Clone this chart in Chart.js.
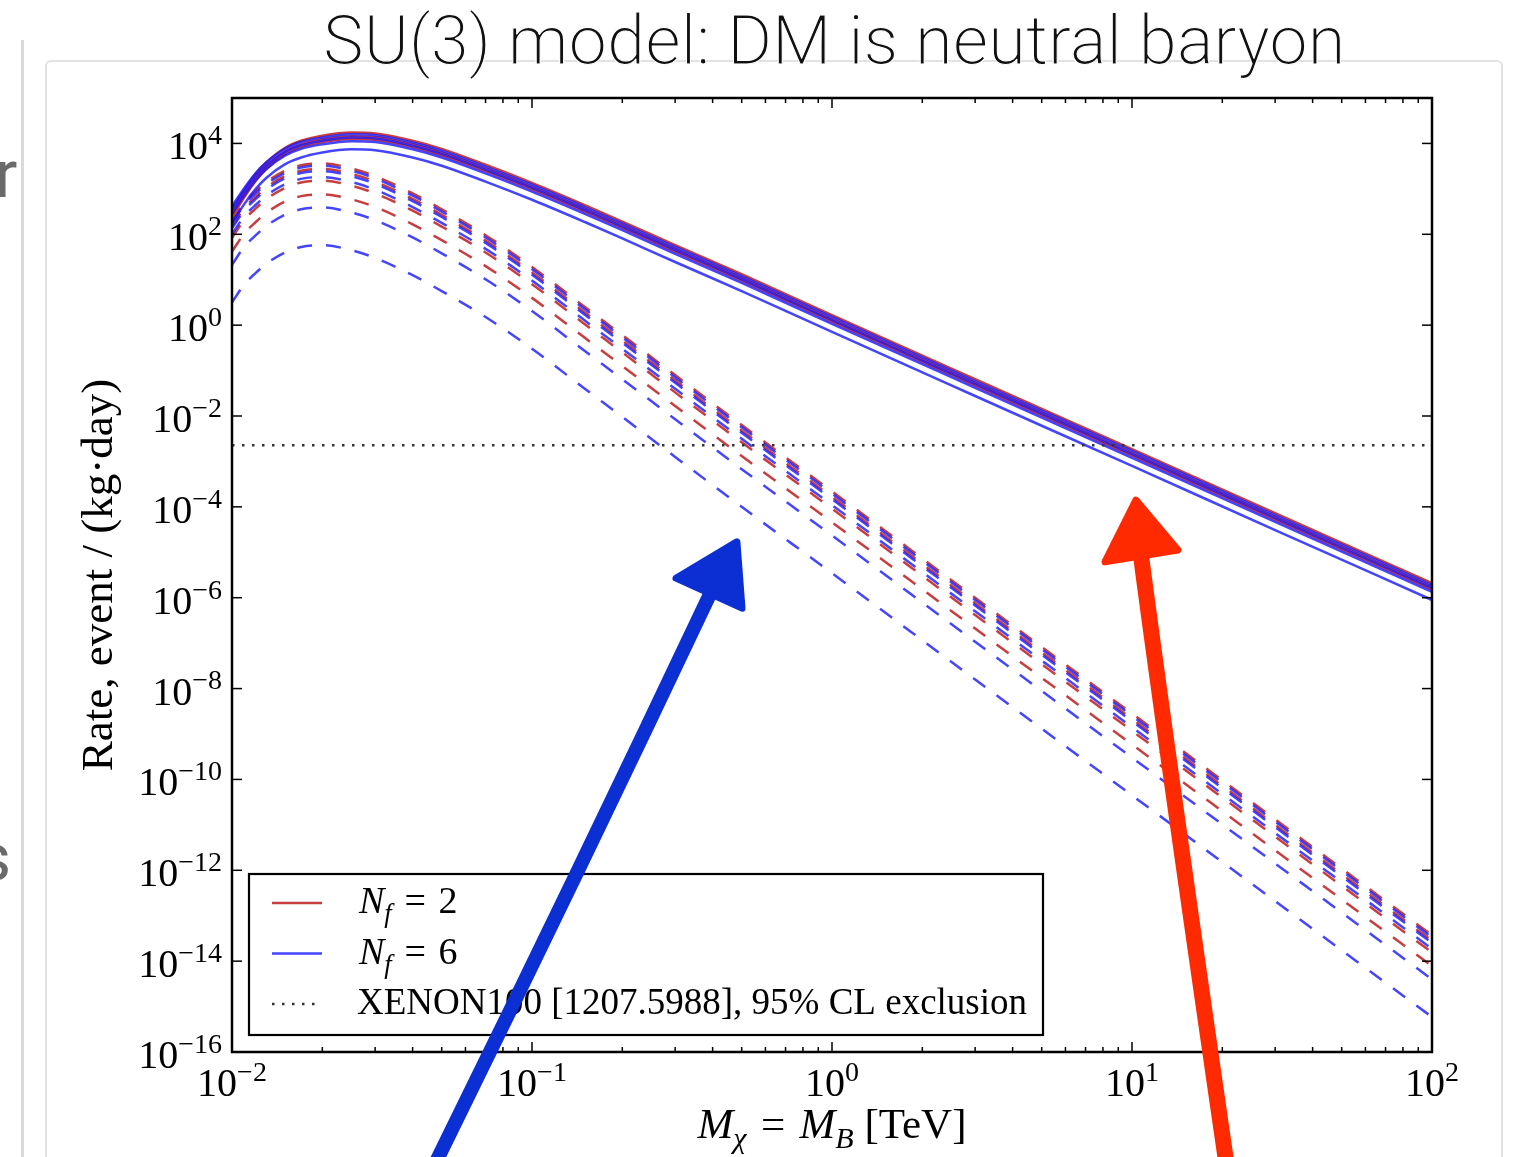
<!DOCTYPE html>
<html>
<head>
<meta charset="utf-8">
<title>SU(3) model: DM is neutral baryon</title>
<script src="https://cdn.jsdelivr.net/npm/chart.js@4.4.1/dist/chart.umd.min.js"></script>
<style>
  html, body { margin: 0; padding: 0; background: #fff; overflow: hidden; }
  body { width: 1523px; height: 1157px; position: relative; }
  #chart { position: absolute; left: 0; top: 0; }
</style>
</head>
<body>
<canvas id="chart" width="1523" height="1157"></canvas>
<script>
// Dark matter mass grid, TeV
const massTeV = [0.01, 0.011, 0.012, 0.013, 0.015, 0.017, 0.02, 0.025, 0.03, 0.04, 0.05,
                 0.07, 0.1, 0.15, 0.2, 0.3, 0.5, 1, 3, 10, 30, 100];

// log10 of the event rate per (kg day), one row per curve
const nf2Solid = [
    [2.55, 2.98, 3.33, 3.58, 3.90, 4.06, 4.17, 4.24, 4.22, 4.06, 3.88, 3.53, 3.13, 2.64, 2.28, 1.76, 1.12, 0.22, -1.19, -2.73, -4.14, -5.68],
    [2.45, 2.88, 3.24, 3.50, 3.82, 3.98, 4.09, 4.16, 4.14, 3.98, 3.80, 3.45, 3.05, 2.56, 2.20, 1.68, 1.04, 0.14, -1.27, -2.81, -4.22, -5.76],
    [2.38, 2.82, 3.18, 3.44, 3.76, 3.92, 4.03, 4.10, 4.08, 3.92, 3.74, 3.39, 2.99, 2.50, 2.14, 1.62, 0.98, 0.08, -1.33, -2.87, -4.28, -5.82]
];
const nf6Solid = [
    [2.62, 3.02, 3.35, 3.58, 3.88, 4.03, 4.13, 4.20, 4.18, 4.02, 3.84, 3.49, 3.09, 2.60, 2.24, 1.72, 1.08, 0.18, -1.23, -2.77, -4.18, -5.72],
    [2.55, 2.95, 3.28, 3.51, 3.81, 3.96, 4.06, 4.13, 4.11, 3.95, 3.77, 3.42, 3.02, 2.53, 2.17, 1.65, 1.01, 0.11, -1.30, -2.84, -4.25, -5.79],
    [2.45, 2.86, 3.19, 3.43, 3.73, 3.88, 3.98, 4.05, 4.03, 3.87, 3.69, 3.34, 2.94, 2.45, 2.09, 1.57, 0.93, 0.03, -1.38, -2.92, -4.33, -5.87],
    [2.25, 2.67, 3.00, 3.24, 3.54, 3.69, 3.80, 3.87, 3.85, 3.69, 3.51, 3.16, 2.76, 2.27, 1.91, 1.39, 0.75, -0.15, -1.56, -3.10, -4.51, -6.05]
];
const nf2Dashed = [
    [2.30, 2.70, 2.95, 3.15, 3.40, 3.52, 3.56, 3.45, 3.28, 2.90, 2.55, 1.98, 1.28, 0.40, -0.22, -1.10, -2.20, -3.66, -6.00, -8.55, -10.88, -13.43],
    [2.18, 2.58, 2.83, 3.03, 3.28, 3.40, 3.44, 3.33, 3.16, 2.78, 2.43, 1.86, 1.16, 0.28, -0.34, -1.22, -2.32, -3.78, -6.12, -8.67, -11.00, -13.55],
    [1.92, 2.32, 2.57, 2.77, 3.02, 3.14, 3.18, 3.07, 2.90, 2.52, 2.17, 1.60, 0.90, 0.02, -0.60, -1.48, -2.58, -4.04, -6.38, -8.93, -11.26, -13.81],
    [1.62, 2.02, 2.27, 2.47, 2.72, 2.84, 2.88, 2.77, 2.60, 2.22, 1.87, 1.30, 0.60, -0.28, -0.90, -1.78, -2.88, -4.34, -6.68, -9.23, -11.56, -14.11]
];
const nf6Dashed = [
    [2.25, 2.65, 2.90, 3.10, 3.35, 3.47, 3.51, 3.40, 3.23, 2.85, 2.50, 1.93, 1.23, 0.35, -0.27, -1.15, -2.25, -3.71, -6.05, -8.60, -10.93, -13.48],
    [2.13, 2.53, 2.78, 2.98, 3.23, 3.35, 3.39, 3.28, 3.11, 2.73, 2.38, 1.81, 1.11, 0.23, -0.39, -1.27, -2.37, -3.83, -6.17, -8.72, -11.05, -13.60],
    [2.00, 2.40, 2.65, 2.85, 3.10, 3.22, 3.26, 3.15, 2.98, 2.60, 2.25, 1.68, 0.98, 0.10, -0.52, -1.40, -2.50, -3.96, -6.30, -8.85, -11.18, -13.73],
    [1.33, 1.73, 1.98, 2.18, 2.43, 2.55, 2.59, 2.48, 2.31, 1.93, 1.58, 1.01, 0.31, -0.57, -1.19, -2.07, -3.17, -4.63, -6.97, -9.52, -11.85, -14.40],
    [0.50, 0.90, 1.15, 1.35, 1.60, 1.72, 1.76, 1.65, 1.48, 1.10, 0.75, 0.18, -0.52, -1.40, -2.02, -2.90, -4.00, -5.46, -7.80, -10.35, -12.68, -15.23]
];

// XENON100 exclusion level, events / (kg day)
const xenonLimit = 2.26e-3;

// axis decades that carry a tick label
const xTickExp = [-2, -1, 0, 1, 2];
const yTickExp = [4, 2, 0, -2, -4, -6, -8, -10, -12, -14, -16];

const RED = 'rgba(190, 28, 28, 0.85)';
const BLUE = 'rgba(22, 22, 255, 0.8)';
const SERIF = '"Liberation Serif", "DejaVu Serif", serif';
const SANS_LIGHT = '"Roboto Light", Roboto, "Noto Sans", sans-serif';
const DASH = [15, 14];
const DOTS = [2.5, 7.5];
const EQ = '\u2004=\u2004';

function toPoints(logRates) {
    return massTeV.map((m, i) => ({ x: m, y: Math.pow(10, logRates[i]) }));
}

function curve(logRates, color, dashed) {
    return {
        data: toPoints(logRates),
        borderColor: color,
        borderWidth: 2.5,
        borderDash: dashed ? DASH : [],
        cubicInterpolationMode: 'monotone',
        pointRadius: 0
    };
}

const datasets = [{
    data: [{ x: 0.01, y: xenonLimit }, { x: 100, y: xenonLimit }],
    borderColor: '#333',
    borderWidth: 2.5,
    borderDash: DOTS,
    pointRadius: 0
}];
nf6Solid.forEach(r => datasets.push(curve(r, BLUE, false)));
nf2Solid.forEach(r => datasets.push(curve(r, RED, false)));
nf6Dashed.forEach(r => datasets.push(curve(r, BLUE, true)));
nf2Dashed.forEach(r => datasets.push(curve(r, RED, true)));

// draw a sequence of text runs (italic / sub / superscript) on one baseline
function drawRuns(ctx, runs, x, y, size, align) {
    const parts = runs.map(r => {
        const s = (r.sub || r.sup) ? size * 0.7 : size;
        const font = (r.italic ? 'italic ' : '') + s + 'px ' + SERIF;
        ctx.font = font;
        return {
            t: r.t, font: font,
            w: ctx.measureText(r.t).width,
            dy: r.sub ? size * 0.24 : (r.sup ? -size * 0.38 : 0)
        };
    });
    const total = parts.reduce((s, p) => s + p.w, 0);
    let cx = align === 'center' ? x - total / 2 : (align === 'right' ? x - total : x);
    parts.forEach(p => {
        ctx.font = p.font;
        ctx.fillText(p.t, cx, y + p.dy);
        cx += p.w;
    });
}

function powerRuns(e) {
    return [{ t: '10' }, { t: (e < 0 ? '\u2212' : '') + Math.abs(e), sup: true }];
}

function line(ctx, x1, y1, x2, y2) {
    ctx.beginPath();
    ctx.moveTo(x1, y1);
    ctx.lineTo(x2, y2);
    ctx.stroke();
}

// slide backdrop and heading
const slidePlugin = {
    id: 'slide',
    beforeDraw(chart) {
        const ctx = chart.ctx;
        ctx.save();
        ctx.fillStyle = '#fff';
        ctx.fillRect(0, 0, chart.width, chart.height);

        ctx.fillStyle = '#dadada';
        ctx.fillRect(21, 40, 3, chart.height - 40);

        ctx.strokeStyle = '#e2e2e2';
        ctx.lineWidth = 2;
        ctx.beginPath();
        ctx.roundRect(46, 61, 1456, 1200, 5);
        ctx.stroke();

        ctx.fillStyle = '#6a6a6a';
        ctx.font = '66px Roboto, "Noto Sans", sans-serif';
        ctx.fillText('r', -5, 197);
        ctx.fillText('s', -23, 880);

        // heading, sized to span its slot; a thin white outline lightens the strokes
        const title = 'SU(3) model: DM is neutral baryon';
        ctx.font = '300 70px ' + SANS_LIGHT;
        const w = ctx.measureText(title).width;
        const size = 70 * 1022 / w;
        ctx.font = '300 ' + size.toFixed(1) + 'px ' + SANS_LIGHT;
        ctx.fillStyle = '#111';
        ctx.fillText(title, 323, 64);
        ctx.strokeStyle = '#fff';
        ctx.lineWidth = 1.1;
        ctx.lineJoin = 'round';
        ctx.strokeText(title, 323, 64);
        ctx.restore();
    }
};

// axes frame, ticks, labels, legend and the two pointers
const axesPlugin = {
    id: 'axesDecor',
    afterDraw(chart) {
        const ctx = chart.ctx;
        const a = chart.chartArea;
        const xs = chart.scales.x;
        const ys = chart.scales.y;
        ctx.save();

        ctx.strokeStyle = '#000';
        ctx.lineWidth = 2.5;
        ctx.strokeRect(a.left, a.top, a.right - a.left, a.bottom - a.top);

        // ticks point inward on all four sides
        ctx.lineWidth = 1.5;
        for (let k = -2; k <= 2; k++) {
            for (let m = 1; m <= 9; m++) {
                if (k === 2 && m > 1) break;
                const px = xs.getPixelForValue(m * Math.pow(10, k));
                const len = m === 1 ? 10 : 5;
                line(ctx, px, a.bottom, px, a.bottom - len);
                line(ctx, px, a.top, px, a.top + len);
            }
        }
        yTickExp.forEach(e => {
            const py = ys.getPixelForValue(Math.pow(10, e));
            line(ctx, a.left, py, a.left + 10, py);
            line(ctx, a.right, py, a.right - 10, py);
        });

        ctx.fillStyle = '#000';
        ctx.textBaseline = 'alphabetic';
        yTickExp.forEach(e => {
            const py = ys.getPixelForValue(Math.pow(10, e));
            drawRuns(ctx, powerRuns(e), a.left - 10, py + 16, 40, 'right');
        });
        xTickExp.forEach(e => {
            const px = xs.getPixelForValue(Math.pow(10, e));
            drawRuns(ctx, powerRuns(e), px, a.bottom + 44, 40, 'center');
        });

        // axis titles
        drawRuns(ctx, [
            { t: 'M', italic: true }, { t: '\u03c7', italic: true, sub: true },
            { t: EQ },
            { t: 'M', italic: true }, { t: 'B', italic: true, sub: true },
            { t: ' [TeV]' }
        ], (a.left + a.right) / 2, a.bottom + 86, 43, 'center');

        ctx.save();
        ctx.translate(112, (a.top + a.bottom) / 2);
        ctx.rotate(-Math.PI / 2);
        drawRuns(ctx, [{ t: 'Rate, event / (kg\u00b7day)' }], 0, 0, 45, 'center');
        ctx.restore();

        // legend box, lower left
        const lx = a.left + 17, ly = a.bottom - 178, lw = 794, lh = 161;
        ctx.fillStyle = '#fff';
        ctx.fillRect(lx, ly, lw, lh);
        ctx.strokeStyle = '#000';
        ctx.lineWidth = 2.2;
        ctx.strokeRect(lx, ly, lw, lh);

        const rows = [
            { color: RED, dash: [], runs: [{ t: 'N', italic: true }, { t: 'f', italic: true, sub: true }, { t: EQ + '2' }] },
            { color: BLUE, dash: [], runs: [{ t: 'N', italic: true }, { t: 'f', italic: true, sub: true }, { t: EQ + '6' }] },
            { color: '#333', dash: DOTS, runs: [{ t: 'XENON100 [1207.5988], 95% CL exclusion' }] }
        ];
        rows.forEach((row, i) => {
            const y = ly + 29 + i * 50.5;
            ctx.strokeStyle = row.color;
            ctx.lineWidth = 2.5;
            ctx.setLineDash(row.dash);
            line(ctx, lx + 23, y, lx + 73, y);
            ctx.setLineDash([]);
            ctx.fillStyle = '#000';
            drawRuns(ctx, row.runs, lx + (i < 2 ? 110 : 108), y + 10, i < 2 ? 38 : 37, 'left');
        });

        // hand-drawn pointers, anchored in (log10 mass, log10 rate)
        const P = (lm, lr) => [xs.getPixelForValue(Math.pow(10, lm)), ys.getPixelForValue(Math.pow(10, lr))];
        const pointers = [
            {
                color: '#0b2fd3', width: 14,
                shaft: [[-1.317, -18.38], [-0.857, -12.21], [-0.40, -5.83]],
                head: [[-0.52, -5.57], [-0.317, -4.77], [-0.30, -6.23]]
            },
            {
                color: '#ff2a00', width: 16,
                shaft: [[1.313, -18.38], [1.12, -9.57], [1.03, -5.08]],
                head: [[0.91, -5.21], [1.013, -3.85], [1.153, -4.95]]
            }
        ];
        pointers.forEach(p => {
            ctx.strokeStyle = p.color;
            ctx.fillStyle = p.color;
            ctx.lineCap = 'round';
            ctx.lineJoin = 'round';
            ctx.lineWidth = p.width;
            const s = p.shaft.map(q => P(q[0], q[1]));
            ctx.beginPath();
            ctx.moveTo(s[0][0], s[0][1]);
            ctx.quadraticCurveTo(s[1][0], s[1][1], s[2][0], s[2][1]);
            ctx.stroke();
            const h = p.head.map(q => P(q[0], q[1]));
            ctx.lineWidth = 7;
            ctx.beginPath();
            ctx.moveTo(h[0][0], h[0][1]);
            ctx.lineTo(h[1][0], h[1][1]);
            ctx.lineTo(h[2][0], h[2][1]);
            ctx.closePath();
            ctx.fill();
            ctx.stroke();
        });

        ctx.restore();
    }
};

new Chart(document.getElementById('chart').getContext('2d'), {
    type: 'line',
    data: { datasets: datasets },
    options: {
        responsive: false,
        animation: false,
        devicePixelRatio: 1,
        layout: { padding: { left: 232, top: 98, right: 91, bottom: 105 } },
        scales: {
            x: { type: 'logarithmic', min: 0.01, max: 100, display: false },
            y: { type: 'logarithmic', min: 1e-16, max: 1e5, display: false }
        },
        plugins: {
            legend: { display: false },
            tooltip: { enabled: false }
        }
    },
    plugins: [slidePlugin, axesPlugin]
});
</script>
</body>
</html>
